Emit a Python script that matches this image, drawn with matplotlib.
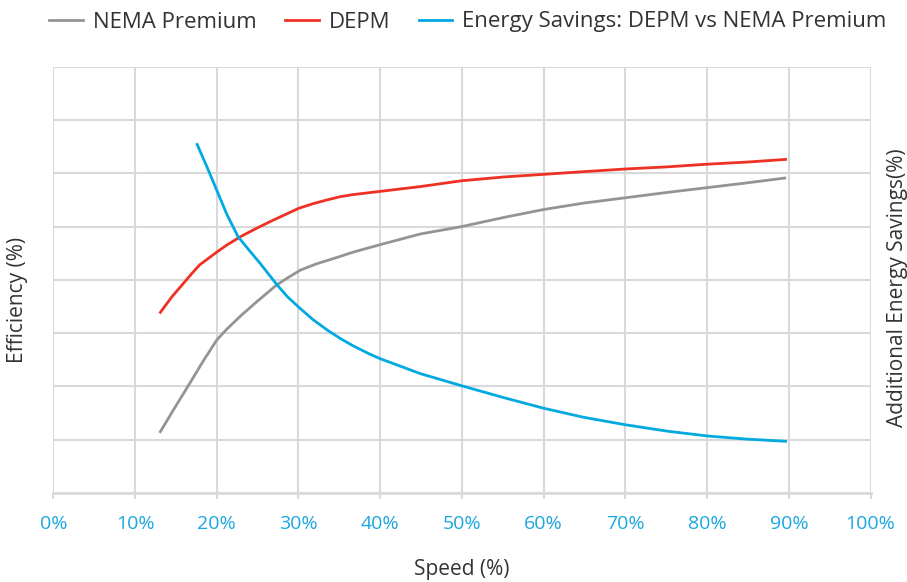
import matplotlib
matplotlib.use('Agg')
import matplotlib.pyplot as plt

# speed (%) and curve values, in grid units (8 rows)
nema_speed = [13.1, 14.7, 16.7, 18.4, 20.0, 21.2, 22.9, 24.9, 27.3, 28.6, 30.2, 32.2, 34.3, 36.7,
              40.0, 44.9, 50.0, 55.1, 60.0, 64.9, 70.0, 75.1, 80.0, 84.9, 89.5]
nema_eff = [1.15, 1.56, 2.06, 2.49, 2.87, 3.07, 3.32, 3.59, 3.90, 4.03, 4.18, 4.30, 4.40, 4.52,
            4.66, 4.86, 5.00, 5.17, 5.32, 5.44, 5.54, 5.64, 5.73, 5.82, 5.91]

depm_speed = [13.1, 14.5, 15.9, 16.9, 17.9, 20.0, 21.2, 22.9, 24.9, 26.9, 28.6, 30.0, 31.8, 33.5,
              35.1, 36.7, 40.0, 44.9, 50.0, 55.1, 60.0, 64.9, 70.0, 75.1, 80.0, 84.9, 89.6]
depm_eff = [3.39, 3.68, 3.93, 4.11, 4.28, 4.52, 4.65, 4.81, 4.97, 5.12, 5.24, 5.34, 5.43, 5.50,
            5.56, 5.60, 5.66, 5.75, 5.86, 5.93, 5.98, 6.03, 6.08, 6.12, 6.17, 6.21, 6.26]

save_speed = [17.6, 18.8, 20.0, 21.2, 22.6, 24.1, 25.3, 27.3, 28.6, 30.0, 31.8, 33.5, 35.1, 36.7,
              38.8, 40.0, 44.9, 50.0, 55.1, 60.0, 64.9, 70.0, 75.1, 80.0, 84.9, 89.6]
save_pct = [6.54, 6.12, 5.68, 5.24, 4.81, 4.53, 4.31, 3.92, 3.69, 3.49, 3.25, 3.06, 2.90, 2.76,
            2.60, 2.52, 2.24, 2.01, 1.79, 1.59, 1.42, 1.28, 1.16, 1.07, 1.01, 0.97]

xticks = list(range(0, 101, 10))
xlabels = ['{0}%'.format(t) for t in xticks]

plt.rcParams['font.family'] = ['Open Sans', 'DejaVu Sans']

grey = '#949494'
red = '#EE3124'
blue = '#00A9E0'
gridc = '#D9D9D9'

fig = plt.figure(figsize=(9.07, 5.82), dpi=100)
ax = fig.add_axes([0.0588, 0.153, 0.9010, 0.7324])
ax2 = ax.twinx()

ax.set_xlim(0, 100)
ax.set_ylim(0, 8)
ax2.set_ylim(0, 8)
ax.set_xticks(xticks)
ax.set_xticklabels(xlabels, color='#1BA7E0', fontsize=14)
ax.set_yticks(range(0, 9))
ax.set_yticklabels([])
ax.tick_params(axis='y', length=0)
ax.tick_params(axis='x', length=4, color=gridc, width=1.5, pad=12)
ax2.set_yticks([])
ax.grid(True, color=gridc, linewidth=1.5)
ax.set_axisbelow(True)
for a in (ax, ax2):
    for s in a.spines.values():
        s.set_visible(False)
ax.spines['bottom'].set_visible(True)
ax.spines['bottom'].set_color(gridc)
ax.spines['bottom'].set_linewidth(2)

l1, = ax.plot(nema_speed, nema_eff, color=grey, lw=2, label='NEMA Premium')
l2, = ax.plot(depm_speed, depm_eff, color=red, lw=2, label='DEPM')
l3, = ax2.plot(save_speed, save_pct, color=blue, lw=2, label='Energy Savings: DEPM vs NEMA Premium')

fig.legend(handles=[l1, l2, l3], loc='center', bbox_to_anchor=(0.516, 1 - 22 / 582), ncol=3,
           frameon=False, fontsize=16, handlelength=1.5, handletextpad=0.45, columnspacing=1.3,
           labelcolor='#333333')

fig.text(462 / 907, 1 - 569 / 582, 'Speed (%)', ha='center', va='center', fontsize=15, color='#333333')
fig.text(18 / 907, 1 - 300 / 582, 'Efficiency (%)', ha='center', va='center', rotation=90,
         fontsize=15, color='#333333')
fig.text(897 / 907, 1 - 288 / 582, 'Additional Energy Savings(%)', ha='center', va='center',
         rotation=90, fontsize=15, color='#333333')

plt.savefig('out.png', dpi=100)
